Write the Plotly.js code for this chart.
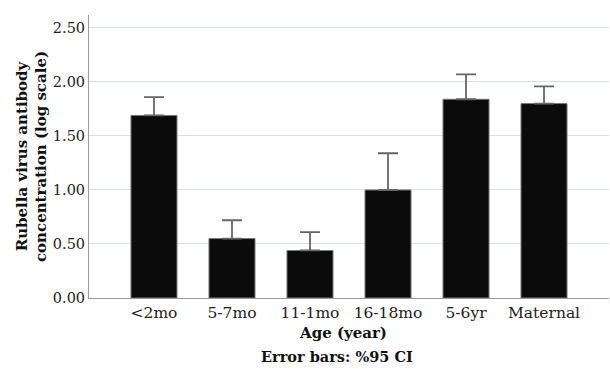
<!DOCTYPE html>
<html>
<head>
<meta charset="utf-8">
<script src="https://cdn.plot.ly/plotly-3.0.1.min.js"></script>
<style>html,body{margin:0;padding:0;background:#fff;}#chart{width:610px;height:369px;}</style>
</head>
<body>
<div id="chart"></div>
<script>
const categories = ["<2mo", "5-7mo", "11-1mo", "16-18mo", "5-6yr", "Maternal"];
const meanValues = [1.69, 0.55, 0.44, 1.00, 1.84, 1.80];
const upperCI = [1.86, 0.72, 0.61, 1.34, 2.07, 1.96];
const yTickValues = [0, 0.5, 1.0, 1.5, 2.0, 2.5];
const yTickLabels = ["0.00", "0.50", "1.00", "1.50", "2.00", "2.50"];

const errPlus = upperCI.map((u, i) => u - meanValues[i]);
const serif = "DejaVu Serif, Liberation Serif, serif";

const trace = {
  type: "bar",
  x: categories.map((c, i) => i),
  y: meanValues,
  width: 0.59,
  marker: {color: "#0b0b0b", line: {color: "#777", width: 1}},
  error_y: {type: "data", symmetric: false, array: errPlus, arrayminus: errPlus.map(() => 0),
            color: "#666", thickness: 1.8, width: 10},
  hoverinfo: "none"
};

const layout = {
  width: 610, height: 369,
  margin: {l: 89, r: 1, t: 15, b: 71},
  paper_bgcolor: "#fff", plot_bgcolor: "#fff",
  showlegend: false,
  bargap: 0,
  xaxis: {
    range: [-0.833, 5.833],
    tickvals: categories.map((c, i) => i),
    ticktext: categories,
    showgrid: false, zeroline: false,
    showline: true, linecolor: "#9a9a9a", linewidth: 1,
    ticks: "",
    tickfont: {family: serif, size: 15.5, color: "#222"}
  },
  yaxis: {
    range: [0, 2.62],
    tickvals: yTickValues,
    ticktext: yTickLabels,
    showgrid: true, gridcolor: "#d9e0e0", gridwidth: 1,
    zeroline: false,
    showline: true, linecolor: "#9a9a9a", linewidth: 1,
    ticks: "",
    ticklen: 0,
    tickfont: {family: serif, size: 14.5, color: "#222"},
    title: {text: "Rubella virus antibody<br>concentration (log scale)", font: {family: serif, size: 15, color: "#111", weight: "bold"}, standoff: 2}
  },
  annotations: [{
    text: "Age (year)", xref: "paper", yref: "paper", x: 0.5, y: 0,
    xshift: -6, yshift: -35, xanchor: "center", yanchor: "middle", showarrow: false,
    font: {family: serif, size: 15, color: "#111", weight: "bold"}
  }, {
    text: "Error bars: %95 CI", xref: "paper", yref: "paper", x: 0.5, y: 0,
    xshift: -12, yshift: -58, xanchor: "center", yanchor: "middle", showarrow: false,
    font: {family: serif, size: 14.5, color: "#111", weight: "bold"}
  }]
};

Plotly.newPlot("chart", [trace], layout, {displayModeBar: false, staticPlot: true});
</script>
</body>
</html>
